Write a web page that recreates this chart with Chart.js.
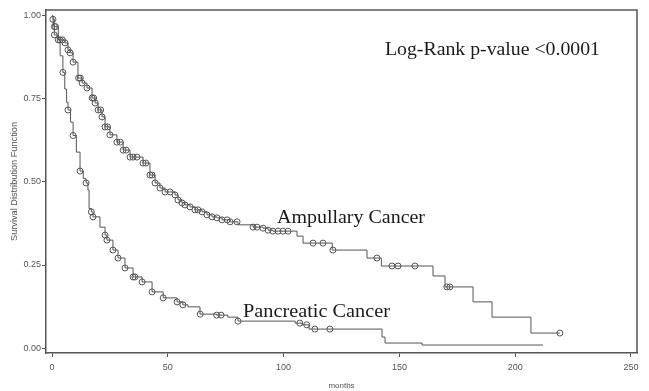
<!DOCTYPE html>
<html>
<head>
<meta charset="utf-8">
<script src="https://cdn.jsdelivr.net/npm/chart.js@4/dist/chart.umd.min.js"></script>
<style>
html,body{margin:0;padding:0;background:#fff;}
#wrap{width:649px;height:391px;position:relative;}
</style>
</head>
<body>
<div id="wrap"><canvas id="c" width="649" height="391"></canvas></div>
<script>
// ---- Data ----
const ampTimes = [0,0.4,1,2.7,5.6,6.9,7.8,9.1,11.2,13,15.1,17.3,18.6,19.9,21.6,22.9,25,28,30.7,33.7,39.3,42.3,44.5,46.6,48.8,53.1,54.4,56.1,57.4,59.6,61.7,64.8,66.9,69.1,71.2,73.4,76.9,80.3,86.8,91.1,93.3,95.4,105.8,108.4,121,136,142.2,164.5,169.7,181.8,190,206.8,219.3];
const ampSurv  = [1,0.99,0.968,0.928,0.919,0.898,0.889,0.861,0.813,0.798,0.783,0.753,0.738,0.717,0.696,0.666,0.642,0.62,0.596,0.575,0.557,0.521,0.497,0.482,0.47,0.461,0.446,0.437,0.431,0.425,0.416,0.41,0.401,0.395,0.392,0.386,0.38,0.371,0.364,0.361,0.355,0.352,0.337,0.316,0.295,0.271,0.247,0.217,0.184,0.139,0.093,0.045,0.045];
const ampCensT = [0.4,1,1.5,2.7,3.5,4.5,5.6,6.9,7.8,9.1,11.5,12.2,13,15.1,17.3,18,18.6,19.9,21,21.6,22.9,24,25,28,29.5,30.7,32,33.7,35,36.7,39.3,40.5,42.3,43.2,44.5,46.6,48.8,51,53.1,54.4,56.1,57.4,59.6,61.7,63,64.8,66.9,69.1,71.2,73.4,75.6,76.9,79.9,86.8,88.5,91.1,93.3,95.4,97.6,99.7,101.9,112.7,117,121.3,140.3,146.8,149.4,156.7,170.5,171.8,219.3];
const ampCensS = [0.99,0.968,0.968,0.928,0.928,0.928,0.919,0.898,0.889,0.861,0.813,0.813,0.798,0.783,0.753,0.753,0.738,0.717,0.717,0.696,0.666,0.666,0.642,0.62,0.62,0.596,0.596,0.575,0.575,0.575,0.557,0.557,0.521,0.521,0.497,0.482,0.47,0.47,0.461,0.446,0.437,0.431,0.425,0.416,0.416,0.41,0.401,0.395,0.392,0.386,0.386,0.38,0.38,0.364,0.364,0.361,0.355,0.352,0.352,0.352,0.352,0.316,0.316,0.295,0.271,0.247,0.247,0.247,0.184,0.184,0.045];

const panTimes = [0,0.5,1,2.5,3.5,4.7,5.5,6.3,6.9,8,9.1,10.5,12.1,13.5,14.7,15.5,16,17,17.7,20.7,22.9,23.7,26.3,28.5,31.5,35,38.9,43.2,48,54,56.5,58.7,63.9,71.1,75.9,80.3,105,108,111,142.5,143.8,159.8,212];
const panSurv  = [1,0.97,0.943,0.93,0.88,0.83,0.78,0.74,0.717,0.68,0.64,0.59,0.533,0.51,0.497,0.476,0.42,0.41,0.395,0.364,0.34,0.325,0.295,0.271,0.241,0.214,0.199,0.169,0.151,0.139,0.13,0.124,0.102,0.099,0.093,0.081,0.075,0.07,0.057,0.033,0.015,0.009,0.009];
const panCensT = [1,4.7,6.9,9.1,12.1,14.7,17,17.7,22.9,23.7,26.3,28.5,31.5,35,35.8,38.9,43.2,48,54,56.5,64,71.1,73,80.3,107,110,113.5,120];
const panCensS = [0.943,0.83,0.717,0.64,0.533,0.497,0.41,0.395,0.34,0.325,0.295,0.271,0.241,0.214,0.214,0.199,0.169,0.151,0.139,0.13,0.102,0.099,0.099,0.081,0.075,0.07,0.057,0.057];

const xTicks = [0,50,100,150,200,250];
const yTicks = [0,0.25,0.5,0.75,1];
const xTitle = 'months';
const yTitle = 'Survival Distribution Function';
const labels = [
  {text:'Log-Rank p-value <0.0001', x:385, y:55, w:215},
  {text:'Ampullary Cancer', x:277, y:223, w:148},
  {text:'Pancreatic Cancer', x:243, y:317, w:147}
];

const toPts = (t,s) => t.map((v,i)=>({x:v,y:s[i]}));
const ink = '#555';

const textPlugin = {
  id:'annot',
  afterDraw(chart){
    const ctx = chart.ctx, a = chart.chartArea;
    ctx.save();
    ctx.strokeStyle = ink;
    ctx.lineWidth = 1.5;
    ctx.beginPath();
    ctx.moveTo(a.left, a.top); ctx.lineTo(a.right, a.top); ctx.lineTo(a.right, a.bottom);
    ctx.stroke();
    ctx.fillStyle = '#1a1a1a';
    ctx.font = "18px 'Liberation Serif', 'Times New Roman', serif";
    ctx.textBaseline = 'alphabetic';
    labels.forEach(l=>{
      const m = ctx.measureText(l.text).width;
      ctx.save();
      ctx.translate(l.x, l.y);
      ctx.scale(l.w/m, 1);
      ctx.fillText(l.text, 0, 0);
      ctx.restore();
    });
    ctx.restore();
  }
};

new Chart(document.getElementById('c'), {
  type:'scatter',
  data:{datasets:[
    {data:toPts(ampTimes,ampSurv), showLine:true, stepped:true, borderColor:ink, borderWidth:1, pointRadius:0},
    {data:toPts(panTimes,panSurv), showLine:true, stepped:true, borderColor:ink, borderWidth:1, pointRadius:0},
    {data:toPts(ampCensT,ampCensS), showLine:false, pointStyle:'circle', pointRadius:3, borderColor:ink, borderWidth:1, backgroundColor:'rgba(0,0,0,0)'},
    {data:toPts(panCensT,panCensS), showLine:false, pointStyle:'circle', pointRadius:3, borderColor:ink, borderWidth:1, backgroundColor:'rgba(0,0,0,0)'}
  ]},
  options:{
    responsive:false, animation:false,
    layout:{padding:{top:10,right:12,left:0,bottom:0}},
    plugins:{legend:{display:false}, tooltip:{enabled:false}},
    scales:{
      x:{type:'linear', min:-2.6, max:252.6,
        afterBuildTicks:s=>{s.ticks = xTicks.map(v=>({value:v}));},
        afterFit:s=>{s.height = 38;},
        grid:{drawOnChartArea:false, drawTicks:true, tickLength:4, color:ink},
        border:{display:true, color:ink, width:1.5},
        ticks:{color:'#555', font:{family:"'Liberation Sans', Arial, sans-serif", size:9}, padding:5, callback:v=>String(v), maxRotation:0},
        title:{display:true, text:xTitle, color:'#555', font:{family:"'Liberation Sans', Arial, sans-serif", size:8}, padding:{top:0,bottom:0}}
      },
      y:{type:'linear', min:-0.015, max:1.018,
        afterBuildTicks:s=>{s.ticks = yTicks.map(v=>({value:v}));},
        afterFit:s=>{s.width = 46;},
        grid:{drawOnChartArea:false, drawTicks:true, tickLength:4, color:ink},
        border:{display:true, color:ink, width:1.5},
        ticks:{color:'#555', font:{family:"'Liberation Sans', Arial, sans-serif", size:9}, padding:1, callback:v=>Number(v).toFixed(2)},
        title:{display:true, text:yTitle, color:'#555', font:{family:"'Liberation Sans', Arial, sans-serif", size:9.2}, padding:{top:9,bottom:0}}
      }
    }
  },
  plugins:[textPlugin]
});
</script>
</body>
</html>
